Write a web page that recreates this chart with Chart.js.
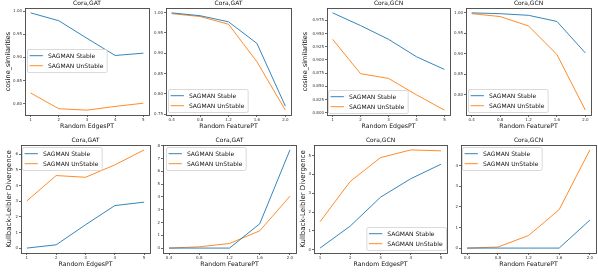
<!DOCTYPE html>
<html>
<head>
<meta charset="utf-8">
<script src="https://cdn.jsdelivr.net/npm/chart.js@4/dist/chart.umd.min.js"></script>
<style>
  html, body { margin: 0; padding: 0; background: #fff; overflow: hidden; }
  #wrap { position: relative; width: 598px; height: 275px; }
  #wrap canvas { position: absolute; }
</style>
</head>
<body>
<div id="wrap"></div>
<script>
// x values
var edgesPT = [1, 2, 3, 4, 5];
var featurePT = [0.4, 0.8, 1.2, 1.6, 2.0];

// cosine similarities
var cosGatEdgeStable = [0.996, 0.979, 0.941, 0.904, 0.909];
var cosGatEdgeUnstable = [0.823, 0.789, 0.786, 0.794, 0.801];
var cosGatFeatStable = [0.999, 0.992, 0.977, 0.924, 0.770];
var cosGatFeatUnstable = [0.997, 0.990, 0.971, 0.879, 0.760];
var cosGcnEdgeStable = [0.989, 0.965, 0.939, 0.906, 0.882];
var cosGcnEdgeUnstable = [0.939, 0.874, 0.865, 0.834, 0.805];
var cosGcnFeatStable = [1.000, 0.998, 0.994, 0.979, 0.902];
var cosGcnFeatUnstable = [0.998, 0.991, 0.968, 0.898, 0.762];

// Kullback-Leibler divergence
var klGatEdgeStable = [0.00, 0.21, 1.49, 2.72, 2.94];
var klGatEdgeUnstable = [3.02, 4.64, 4.53, 5.32, 6.28];
var klGatFeatStable = [0.00, 0.00, 0.00, 1.90, 7.68];
var klGatFeatUnstable = [0.00, 0.10, 0.36, 1.35, 4.06];
var klGcnEdgeStable = [0.09, 1.26, 2.79, 3.77, 4.54];
var klGcnEdgeUnstable = [1.49, 3.63, 4.89, 5.30, 5.25];
var klGcnFeatStable = [0.00, 0.00, 0.00, 0.00, 1.36];
var klGcnFeatUnstable = [0.00, 0.05, 0.61, 1.87, 4.77];

// tick labels
var cosTicksA = [0.80, 0.85, 0.90, 0.95, 1.00];
var cosTicksB = [0.75, 0.80, 0.85, 0.90, 0.95, 1.00];
var cosTicksC = [0.800, 0.825, 0.850, 0.875, 0.900, 0.925, 0.950, 0.975];
var klTicks6 = [0, 1, 2, 3, 4, 5, 6];
var klTicks8 = [0, 1, 2, 3, 4, 5, 6, 7, 8];
var klTicks5 = [0, 1, 2, 3, 4, 5];
var klTicks4 = [0, 1, 2, 3, 4];

var seriesNames = ['SAGMAN Stable', 'SAGMAN UnStable'];
var blue = '#1f77b4';
var orange = '#ff7f0e';
var FONT = '"DejaVu Sans", sans-serif';

// plot areas are given as left, top, right, bottom in page pixels
var panels = [
  { title: 'Cora,GAT', xs: edgesPT, xLabel: 'Random EdgesPT', yLabel: 'cosine_similarities', ySize: 6.5,
    s: cosGatEdgeStable, u: cosGatEdgeUnstable, yTicks: cosTicksA, dec: 2, xDec: 0,
    box: [25, 8, 149, 115], yw: 21, leg: { ax: 'l', ay: 't', dx: 2, dy: 41 } },
  { title: 'Cora,GAT', xs: featurePT, xLabel: 'Random FeaturePT', yLabel: '',
    s: cosGatFeatStable, u: cosGatFeatUnstable, yTicks: cosTicksB, dec: 2, xDec: 1,
    box: [166, 8, 291, 115], yw: 14, leg: { ax: 'l', ay: 'b', dx: 2, dy: 3 } },
  { title: 'Cora,GCN', xs: edgesPT, xLabel: 'Random EdgesPT', yLabel: 'cosine_similarities', ySize: 6.5,
    s: cosGcnEdgeStable, u: cosGcnEdgeUnstable, yTicks: cosTicksC, dec: 3, xDec: 0,
    box: [327, 8, 450, 115], yw: 26, leg: { ax: 'l', ay: 'b', dx: 1, dy: 2 } },
  { title: 'Cora,GCN', xs: featurePT, xLabel: 'Random FeaturePT', yLabel: '',
    s: cosGcnFeatStable, u: cosGcnFeatUnstable, yTicks: cosTicksA, dec: 2, xDec: 1,
    box: [466, 8, 591, 115], yw: 14, leg: { ax: 'l', ay: 'b', dx: 2, dy: 3 } },
  { title: 'Cora,GAT', xs: edgesPT, xLabel: 'Random EdgesPT', yLabel: 'Kullback-Leibler Divergence', ySize: 7,
    s: klGatEdgeStable, u: klGatEdgeUnstable, yTicks: klTicks6, dec: 0, xDec: 0,
    box: [21, 145, 150, 253], yw: 16, leg: { ax: 'l', ay: 't', dx: 1, dy: 2 } },
  { title: 'Cora,GAT', xs: featurePT, xLabel: 'Random FeaturePT', yLabel: '',
    s: klGatFeatStable, u: klGatFeatUnstable, yTicks: klTicks8, dec: 0, xDec: 1,
    box: [163, 145, 296, 253], yw: 12, leg: { ax: 'l', ay: 't', dx: 3, dy: 2 } },
  { title: 'Cora,GCN', xs: edgesPT, xLabel: 'Random EdgesPT', yLabel: 'Kullback-Leibler Divergence', ySize: 7,
    s: klGcnEdgeStable, u: klGcnEdgeUnstable, yTicks: klTicks5, dec: 0, xDec: 0,
    box: [314, 145, 447, 253], yw: 15, leg: { ax: 'r', ay: 'b', dx: 1, dy: 3 } },
  { title: 'Cora,GCN', xs: featurePT, xLabel: 'Random FeaturePT', yLabel: '',
    s: klGcnFeatStable, u: klGcnFeatUnstable, yTicks: klTicks4, dec: 0, xDec: 1,
    box: [461, 145, 596, 253], yw: 12, leg: { ax: 'l', ay: 't', dx: 1, dy: 2 } }
];

// frame, centred title and in-axes legend like matplotlib
var panelDeco = {
  id: 'panelDeco',
  afterDraw: function (chart, args, opts) {
    var ctx = chart.ctx, a = chart.chartArea;
    ctx.save();
    ctx.strokeStyle = '#444';
    ctx.lineWidth = 0.9;
    ctx.strokeRect(Math.round(a.left) + 0.5, Math.round(a.top) + 0.5,
      Math.round(a.right - a.left), Math.round(a.bottom - a.top));

    ctx.fillStyle = '#111';
    ctx.font = '6px ' + FONT;
    ctx.textAlign = 'center';
    ctx.textBaseline = 'middle';
    ctx.fillText(opts.title, (a.left + a.right) / 2, a.top - 4.5);

    // legend
    var leg = opts.leg;
    ctx.font = '6px ' + FONT;
    var tw = 0;
    chart.data.datasets.forEach(function (d) { tw = Math.max(tw, ctx.measureText(d.label).width); });
    var w = 2.6 + 13.3 + 5 + tw + 3.3, h = 23, rowH = 10;
    var x = leg.ax === 'l' ? a.left + leg.dx : a.right - leg.dx - w;
    var y = leg.ay === 't' ? a.top + leg.dy : a.bottom - leg.dy - h;
    ctx.beginPath();
    ctx.roundRect(x + 0.5, y + 0.5, w, h, 1.5);
    ctx.fillStyle = 'rgba(255,255,255,0.8)';
    ctx.fill();
    ctx.strokeStyle = '#d0d0d0';
    ctx.lineWidth = 0.8;
    ctx.stroke();
    ctx.textAlign = 'left';
    chart.data.datasets.forEach(function (d, i) {
      var cy = y + 6.7 + i * rowH;
      ctx.strokeStyle = d.borderColor;
      ctx.lineWidth = 0.9;
      ctx.beginPath();
      ctx.moveTo(x + 2.6, cy);
      ctx.lineTo(x + 15.9, cy);
      ctx.stroke();
      ctx.fillStyle = '#111';
      ctx.fillText(d.label, x + 20.9, cy + 0.3);
    });
    ctx.restore();
  }
};

function pad5(arr) {
  var lo = Math.min.apply(null, arr), hi = Math.max.apply(null, arr);
  var m = (hi - lo) * 0.05;
  return [lo - m, hi + m];
}

var wrap = document.getElementById('wrap');
var xh = 15;
var rightPad = 3;

panels.forEach(function (p) {
  var l = p.box[0], t = p.box[1], r = p.box[2], b = p.box[3];
  var cv = document.createElement('canvas');
  var cw = (r - l) + p.yw + rightPad;
  var ch = (b - t) + 9 + xh;
  cv.width = cw;
  cv.height = ch;
  cv.style.left = (l - p.yw) + 'px';
  cv.style.top = (t - 9) + 'px';
  cv.style.width = cw + 'px';
  cv.style.height = ch + 'px';
  wrap.appendChild(cv);

  var xr = pad5(p.xs);
  var yr = pad5(p.s.concat(p.u));

  new Chart(cv, {
    type: 'line',
    data: {
      datasets: [
        { label: seriesNames[0], data: p.xs.map(function (v, i) { return { x: v, y: p.s[i] }; }),
          borderColor: blue, backgroundColor: blue },
        { label: seriesNames[1], data: p.xs.map(function (v, i) { return { x: v, y: p.u[i] }; }),
          borderColor: orange, backgroundColor: orange }
      ]
    },
    plugins: [panelDeco],
    options: {
      responsive: false,
      animation: false,
      devicePixelRatio: 1,
      layout: { padding: { top: 9, right: rightPad, left: 0, bottom: 0 } },
      elements: { point: { radius: 0 }, line: { borderWidth: 0.9, tension: 0 } },
      plugins: {
        legend: { display: false },
        tooltip: { enabled: false },
        panelDeco: { title: p.title, leg: p.leg }
      },
      scales: {
        x: {
          type: 'linear',
          min: xr[0],
          max: xr[1],
          afterBuildTicks: function (s) { s.ticks = p.xs.map(function (v) { return { value: v }; }); },
          afterFit: function (s) { s.height = xh; },
          ticks: {
            autoSkip: false, maxRotation: 0, padding: 0.5, color: '#333',
            font: { family: FONT, size: 4 },
            callback: function (v) { return Number(v).toFixed(p.xDec); }
          },
          grid: { drawOnChartArea: false, drawTicks: true, tickLength: 2, color: '#444', lineWidth: 0.8 },
          border: { display: false },
          title: { display: true, text: p.xLabel, color: '#111',
            font: { family: FONT, size: 6.2, lineHeight: 1 }, padding: { top: 0, bottom: 0.5 } }
        },
        y: {
          min: yr[0],
          max: yr[1],
          afterBuildTicks: function (s) { s.ticks = p.yTicks.map(function (v) { return { value: v }; }); },
          afterFit: function (s) { s.width = p.yw; },
          ticks: {
            autoSkip: false, padding: 1, color: '#333',
            font: { family: FONT, size: 4 },
            callback: function (v) { return Number(v).toFixed(p.dec); }
          },
          grid: { drawOnChartArea: false, drawTicks: true, tickLength: 2, color: '#444', lineWidth: 0.8 },
          border: { display: false },
          title: { display: p.yLabel !== '', text: p.yLabel, color: '#111',
            font: { family: FONT, size: p.ySize || 6.5, lineHeight: 1 }, padding: { top: 1, bottom: 0 } }
        }
      }
    }
  });
});
</script>
</body>
</html>
